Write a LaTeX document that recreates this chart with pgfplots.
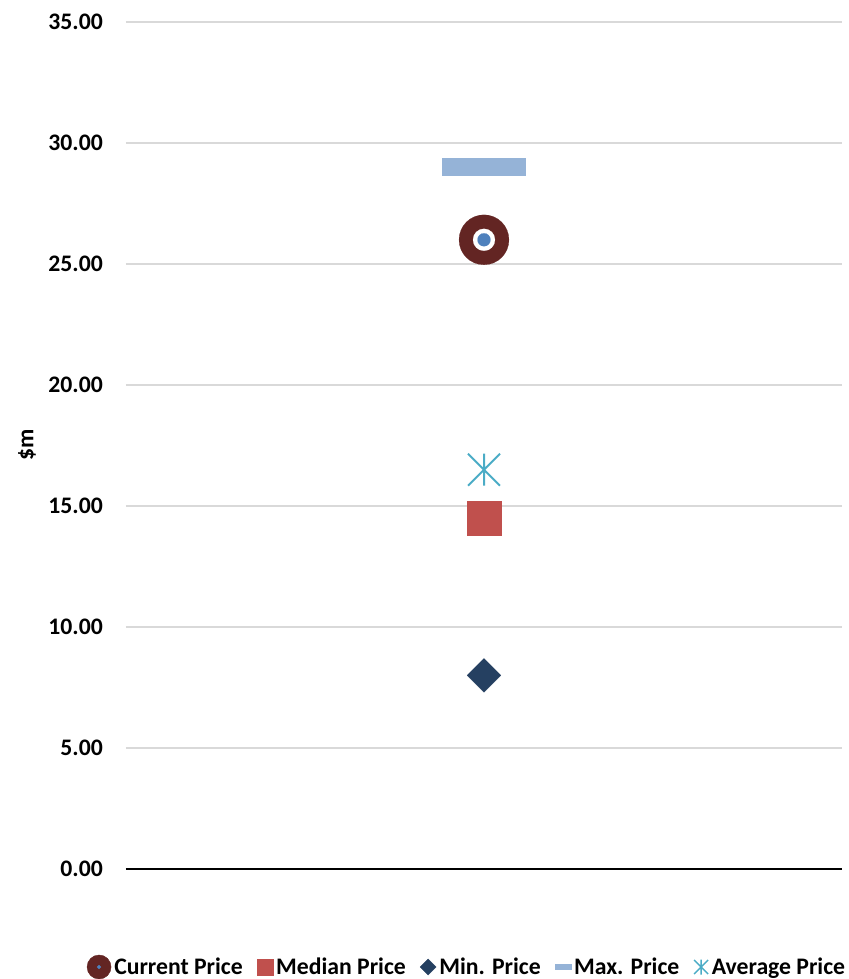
\documentclass[border=0pt]{standalone}
\usepackage{fontspec}
\setmainfont{Carlito}
\usepackage{pgfplots}
\pgfplotsset{compat=1.18}
\definecolor{curred}{HTML}{632523}
\definecolor{curblue}{HTML}{4F81BD}
\definecolor{medred}{HTML}{C0504D}
\definecolor{minblue}{HTML}{254061}
\definecolor{maxblue}{HTML}{95B3D7}
\definecolor{avgcyan}{HTML}{4BACC6}
\definecolor{gridgray}{HTML}{D9D9D9}
\pgfdeclareplotmark{hbar}{\pgfpathrectangle{\pgfqpoint{-42pt}{-9pt}}{\pgfqpoint{84pt}{18pt}}\pgfusepathqfill}
\pgfdeclareplotmark{xstar}{%
  \pgfpathmoveto{\pgfqpoint{0pt}{\pgfplotmarksize}}\pgfpathlineto{\pgfqpoint{0pt}{-\pgfplotmarksize}}%
  \pgfpathmoveto{\pgfqpoint{-\pgfplotmarksize}{\pgfplotmarksize}}\pgfpathlineto{\pgfqpoint{\pgfplotmarksize}{-\pgfplotmarksize}}%
  \pgfpathmoveto{\pgfqpoint{-\pgfplotmarksize}{-\pgfplotmarksize}}\pgfpathlineto{\pgfqpoint{\pgfplotmarksize}{\pgfplotmarksize}}%
  \pgfusepathqstroke}
\begin{document}
\begin{tikzpicture}
\useasboundingbox (-126pt,-110pt) rectangle (722pt,869pt);
\begin{axis}[
  at={(0pt,0pt)}, anchor=south west,
  scale only axis, width=716pt, height=847pt,
  font=\fontsize{23.7}{28}\selectfont\bfseries,
  xmin=0, xmax=2, ymin=0, ymax=35,
  xtick=\empty, ytick={0,5,...,35},
  ymajorgrids, grid style={gridgray, line width=1.5pt},
  major tick length=0pt,
  axis x line*=bottom, axis y line*=left,
  axis line style={-},
  x axis line style={black, line width=1.5pt},
  y axis line style={draw=none},
  yticklabel style={/pgf/number format/.cd, fixed, fixed zerofill, precision=2, assume math mode=true, /tikz/.cd, anchor=east, inner sep=0pt, xshift=-23pt},
  ylabel={\$m},
  ylabel style={at={([xshift=-99pt]rel axis cs:0,0.5006)}, anchor=center},
  legend style={at={(rel axis cs:0.4756,-0.1157)}, anchor=center, draw=none, fill=none,
    legend columns=-1,
    /tikz/every odd column/.append style={column sep=2pt},
    /tikz/every even column/.append style={column sep=13pt},
    nodes={inner sep=1pt, anchor=west}},
  legend cell align=left,
  clip=false,
]
\addplot[only marks, mark=*, mark size=25pt, mark options={fill=curred, draw=curred, line width=0.1pt},
  legend image code/.code={\fill[curred] (0pt,0pt) circle (12pt); \fill[curblue] (0pt,0pt) circle (1.8pt);}]
  coordinates {(1,26)};
\addlegendentry{Current Price}
\addplot[forget plot, only marks, mark=*, mark size=11pt, mark options={fill=white, draw=white, line width=0.1pt}] coordinates {(1,26)};
\addplot[forget plot, only marks, mark=*, mark size=6.5pt, mark options={fill=curblue, draw=curblue, line width=0.1pt}] coordinates {(1,26)};
\addplot[only marks, mark=square*, mark size=17pt, mark options={fill=medred, draw=medred, line width=0.1pt},
  legend image code/.code={\fill[medred] (-8pt,-8pt) rectangle (8pt,8pt);}]
  coordinates {(1,14.5)};
\addlegendentry{Median Price}
\addplot[only marks, mark=square*, mark size=12pt, mark options={fill=minblue, draw=minblue, line width=0.1pt, rotate=45},
  legend image code/.code={\fill[minblue] (0pt,8pt) -- (8pt,0pt) -- (0pt,-8pt) -- (-8pt,0pt) -- cycle;}]
  coordinates {(1,8)};
\addlegendentry{Min. Price}
\addplot[only marks, mark=hbar, mark options={fill=maxblue, draw=maxblue},
  legend image code/.code={\fill[maxblue] (-8pt,-2.5pt) rectangle (8pt,2.5pt);}]
  coordinates {(1,29)};
\addlegendentry{Max. Price}
\addplot[only marks, mark=xstar, mark size=16pt, mark options={draw=avgcyan, line width=2pt},
  legend image code/.code={\draw[avgcyan, line width=1.5pt] (0pt,-7.5pt) -- (0pt,7.5pt) (-7pt,-7pt) -- (7pt,7pt) (-7pt,7pt) -- (7pt,-7pt);}]
  coordinates {(1,16.5)};
\addlegendentry{Average Price}
\end{axis}
\end{tikzpicture}
\end{document}
